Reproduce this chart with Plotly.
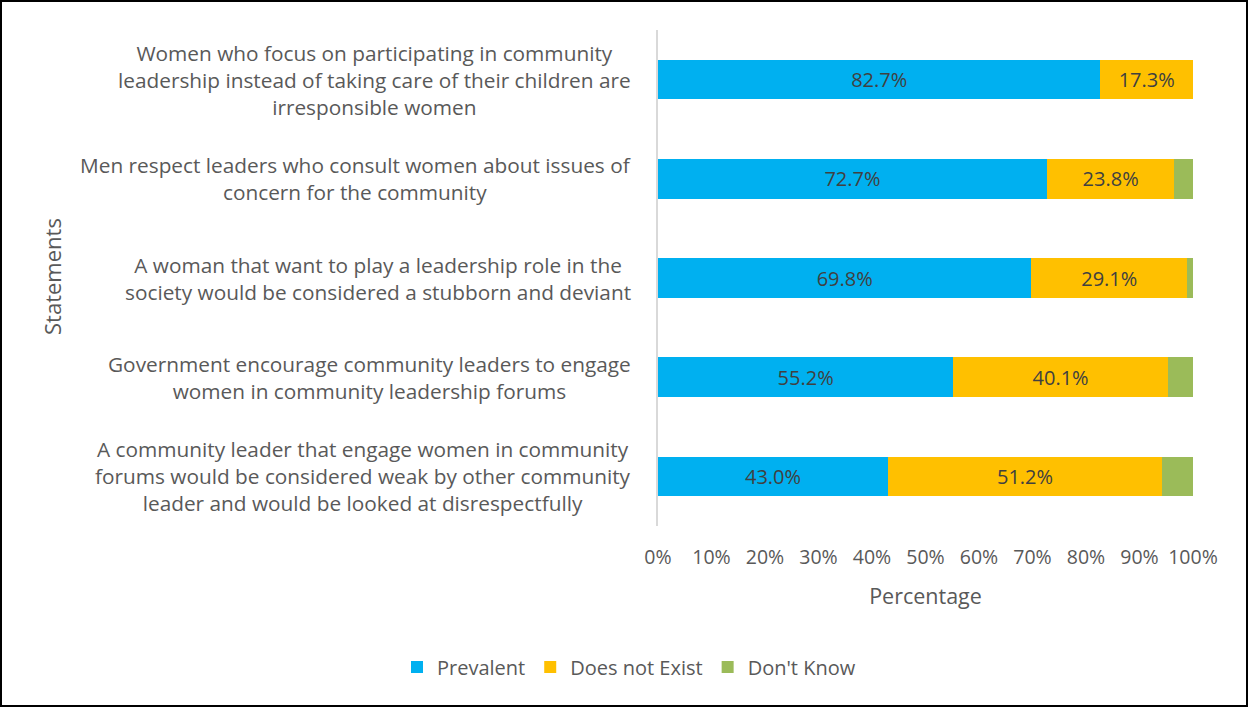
import plotly.graph_objects as go

# Survey statements (top to bottom) with wrapped display text
statements = [
    "Women who focus on participating in community<br>leadership instead of taking care of their children are<br>irresponsible women",
    "Men respect leaders who consult women about issues of<br>concern for the community",
    "A woman that want to play a leadership role in the<br>society would be considered a stubborn and deviant",
    "Government encourage community leaders to engage<br>women in community leadership forums",
    "A community leader that engage women in community<br>forums would be considered weak by other community<br>leader and would be looked at disrespectfully",
]
cat_ids = ["s1", "s2", "s3", "s4", "s5"]

prevalent = [82.7, 72.7, 69.8, 55.2, 43.0]
does_not_exist = [17.3, 23.8, 29.1, 40.1, 51.2]
dont_know = [0.0, 3.5, 1.1, 4.7, 5.8]

tick_vals = [0, 10, 20, 30, 40, 50, 60, 70, 80, 90, 100]
tick_text = [f"{v}%" for v in tick_vals]

FONT = "Open Sans"
TXT = "#595959"

W, H = 1249, 708
ML, MR, MT, MB = 658, 56, 30, 182

fig = go.Figure()
fig.add_trace(go.Bar(
    y=cat_ids, x=prevalent, orientation="h", name="Prevalent",
    marker=dict(color="#00B0F0", line=dict(width=0)),
    texttemplate="%{x:.1f}%", textposition="inside", insidetextanchor="middle",
    textfont=dict(family=FONT, size=20, color="#404040"),
))
fig.add_trace(go.Bar(
    y=cat_ids, x=does_not_exist, orientation="h", name="Does not Exist",
    marker=dict(color="#FFC000", line=dict(width=0)),
    texttemplate="%{x:.1f}%", textposition="inside", insidetextanchor="middle",
    textfont=dict(family=FONT, size=20, color="#404040"),
))
fig.add_trace(go.Bar(
    y=cat_ids, x=dont_know, orientation="h", name="Don't Know",
    marker=dict(color="#9BBB59", line=dict(width=0)),
    textposition="none",
))

# Category labels: centred lines, right-aligned block next to the axis
annotations = []
for cid, txt in zip(cat_ids, statements):
    annotations.append(dict(
        x=0, xref="paper", y=cid, yref="y", xanchor="right", yanchor="middle",
        xshift=-25, text=txt, showarrow=False, align="center",
        font=dict(family=FONT, size=20.8, color=TXT),
    ))

pw, ph = W - ML - MR, H - MT - MB
def px_x(p):
    return (p - ML) / pw
def px_y(p):
    return (H - MB - p) / ph

fig.update_layout(
    width=W, height=H,
    margin=dict(l=ML, r=MR, t=MT, b=MB, autoexpand=False),
    barmode="stack", bargap=0.6,
    plot_bgcolor="white", paper_bgcolor="white",
    font=dict(family=FONT, size=19, color=TXT),
    xaxis=dict(
        range=[0, 100], tickvals=tick_vals, ticktext=tick_text,
        showgrid=False, zeroline=False, showline=False, ticks="",
        ticklabelstandoff=17,
        tickfont=dict(family=FONT, size=19.5, color=TXT),
        title=dict(text="Percentage", font=dict(family=FONT, size=21.5, color=TXT), standoff=20),
    ),
    yaxis=dict(
        autorange="reversed", showticklabels=False, ticks="",
        showgrid=False, zeroline=False, showline=True, linecolor="#D9D9D9", linewidth=2,
    ),
    legend=dict(
        orientation="h", x=px_x(629), xanchor="center",
        y=px_y(667), yanchor="middle",
        font=dict(family=FONT, size=20, color=TXT), traceorder="normal",
    ),
    annotations=annotations + [dict(
        text="Statements", x=px_x(52), y=px_y(277), xref="paper", yref="paper",
        textangle=-90, showarrow=False, xanchor="center", yanchor="middle",
        font=dict(family=FONT, size=22, color=TXT),
    )],
    shapes=[dict(
        type="rect", xref="paper", yref="paper",
        x0=px_x(1), x1=px_x(1247), y0=px_y(1), y1=px_y(706),
        line=dict(color="black", width=2), layer="above",
    )],
)

fig.write_html("out.html")
